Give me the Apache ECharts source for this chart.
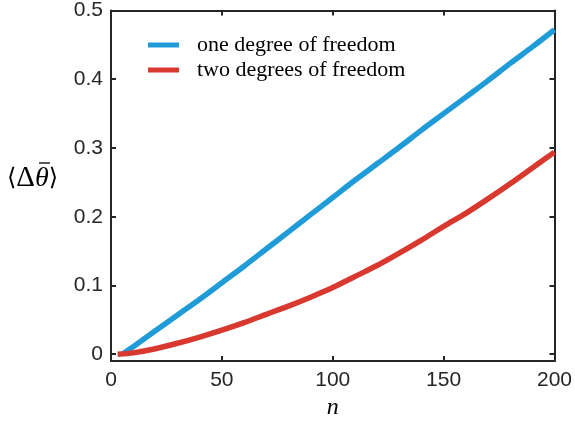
<!DOCTYPE html>
<html>
<head>
    <meta charset="utf-8">
    <title>ECharts</title>
    <script src="https://cdn.jsdelivr.net/npm/echarts@6/dist/echarts.min.js"></script>
</head>
<body style="margin:0">
<div id="main" style="width: 575px;height:425px;"></div>
<script type="text/javascript">
    // values
    var nOne = [5, 10, 20, 30, 40, 50, 60, 70, 80, 90, 100, 110, 120, 130, 140, 150, 160, 170, 180, 190, 200];
    var oneDof = [0, 0.011, 0.034, 0.057, 0.080, 0.104, 0.128, 0.153, 0.178, 0.203, 0.228, 0.253, 0.277, 0.301, 0.326, 0.350, 0.374, 0.398, 0.423, 0.447, 0.472];
    var nTwo = [3, 10, 20, 30, 40, 50, 60, 70, 80, 90, 100, 110, 120, 130, 140, 150, 160, 170, 180, 190, 200];
    var twoDof = [0, 0.002, 0.008, 0.016, 0.025, 0.035, 0.046, 0.058, 0.070, 0.083, 0.097, 0.113, 0.129, 0.147, 0.166, 0.186, 0.205, 0.226, 0.248, 0.271, 0.294];
    var yTicks = [0, 0.1, 0.2, 0.3, 0.4, 0.5];
    var seriesNames = ['one degree of freedom', 'two degrees of freedom'];

    function pairs(xs, ys) {
        var out = [];
        for (var i = 0; i < xs.length; i++) {
            out.push([xs[i], ys[i]]);
        }
        return out;
    }

    var axisColor = '#262626';
    var lineStyle = {color: axisColor, width: 2};

    var myChart = echarts.init(document.getElementById('main'));
    var option = {
        animation: false,
        grid: {left: 111, right: 17, top: 8.5, bottom: 59},
        legend: {
            orient: 'vertical',
            left: 143,
            top: 29,
            icon: 'rect',
            itemWidth: 31,
            itemHeight: 5,
            itemGap: 3,
            data: seriesNames,
            textStyle: {
                fontFamily: 'Liberation Serif',
                fontSize: 22,
                lineHeight: 22,
                color: '#000',
                padding: [0, 0, 0, 13]
            }
        },
        // y-axis title: angle brackets, delta, theta with an overbar
        graphic: [{
            type: 'text',
            left: 7,
            top: 164,
            style: {
                text: '{a|\u27e8}{b|\u0394}{c|\u03b8}{a|\u27e9}',
                rich: {
                    a: {fontFamily: 'DejaVu Serif', fontSize: 24, fill: '#000'},
                    b: {fontFamily: 'Liberation Serif', fontSize: 29, fill: '#000'},
                    c: {fontFamily: 'Liberation Serif', fontStyle: 'italic', fontSize: 28, fill: '#000'}
                }
            }
        }, {
            type: 'line',
            shape: {x1: 39, y1: 163, x2: 50, y2: 163},
            style: {stroke: '#000', lineWidth: 1.3}
        }],
        xAxis: [{
            type: 'value',
            min: 0,
            max: 200,
            interval: 50,
            name: 'n',
            nameLocation: 'middle',
            nameGap: 30,
            nameTextStyle: {fontFamily: 'Liberation Serif', fontStyle: 'italic', fontSize: 24, color: '#000'},
            axisLine: {show: true, onZero: false, lineStyle: lineStyle},
            axisTick: {show: true, inside: true, length: 5, lineStyle: lineStyle},
            axisLabel: {fontFamily: 'Liberation Sans', fontSize: 21, color: axisColor, margin: 9},
            splitLine: {show: false}
        }, {
            type: 'value',
            position: 'top',
            min: 0,
            max: 200,
            interval: 50,
            axisLine: {show: true, onZero: false, lineStyle: lineStyle},
            axisTick: {show: true, inside: true, length: 5, lineStyle: lineStyle},
            axisLabel: {show: false},
            splitLine: {show: false}
        }],
        yAxis: [{
            type: 'value',
            min: -0.01,
            max: 0.5,
            axisLine: {show: true, onZero: false, lineStyle: lineStyle},
            axisTick: {show: true, inside: true, length: 5, lineStyle: lineStyle, customValues: yTicks},
            axisLabel: {
                fontFamily: 'Liberation Sans', fontSize: 21, color: axisColor, margin: 8,
                customValues: yTicks,
                formatter: function (v) { return String(Math.round(v * 10) / 10); }
            },
            splitLine: {show: false}
        }, {
            type: 'value',
            position: 'right',
            min: -0.01,
            max: 0.5,
            axisLine: {show: true, onZero: false, lineStyle: lineStyle},
            axisTick: {show: true, inside: true, length: 5, lineStyle: lineStyle, customValues: yTicks},
            axisLabel: {show: false},
            splitLine: {show: false}
        }],
        series: [{
            name: seriesNames[0],
            type: 'line',
            showSymbol: false,
            smooth: 0.3,
            data: pairs(nOne, oneDof),
            itemStyle: {color: '#1f9bd8'},
            lineStyle: {color: '#1f9bd8', width: 5.5},
            z: 3
        }, {
            name: seriesNames[1],
            type: 'line',
            showSymbol: false,
            smooth: 0.3,
            data: pairs(nTwo, twoDof),
            itemStyle: {color: '#d8382e'},
            lineStyle: {color: '#d8382e', width: 5.5},
            z: 4
        }]
    };
    myChart.setOption(option);
</script>
</body>
</html>
